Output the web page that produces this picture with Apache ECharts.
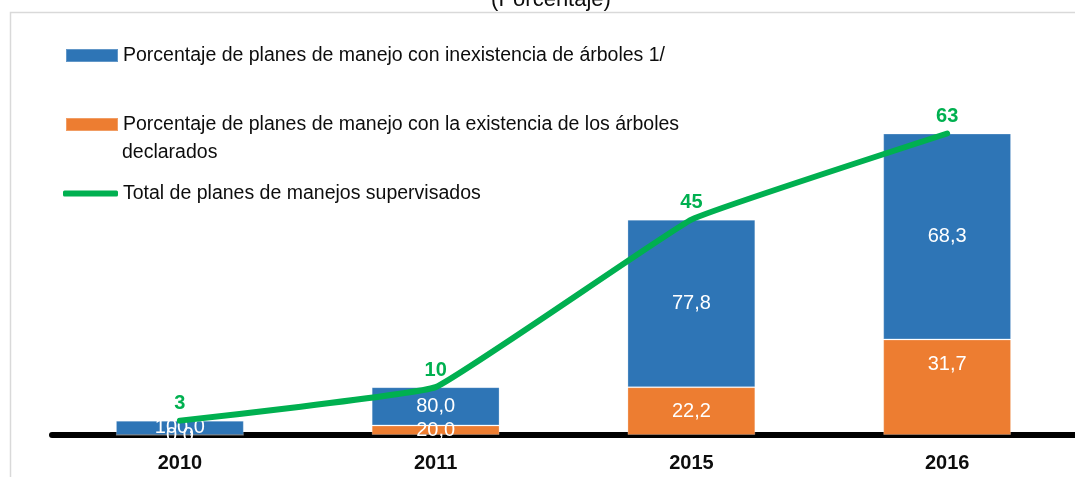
<!DOCTYPE html>
<html>
<head>
<meta charset="utf-8">
<script src="https://cdn.jsdelivr.net/npm/echarts@6/dist/echarts.min.js"></script>
<style>
  html, body { margin: 0; padding: 0; background: #fff; }
  #chart { width: 1075px; height: 477px; }
</style>
</head>
<body>
<div id="chart"></div>
<script>
  // años y valores
  var years = ['2010', '2011', '2015', '2016'];
  var totalPlanes = [3, 10, 45, 63];
  var pctInexistencia = [100.0, 80.0, 77.8, 68.3];
  var pctExistencia = [0.0, 20.0, 22.2, 31.7];

  var nameInex = 'Porcentaje de planes de manejo con inexistencia de árboles 1/';
  var nameExis = 'Porcentaje de planes de manejo con la existencia de los árboles';
  var nameTotal = 'Total de planes de manejos supervisados';

  var font = 'Liberation Sans, Arial, sans-serif';

  function fmt(v) {
    return v.toFixed(1).replace('.', ',');
  }

  // el alto de cada tramo es la parte del total que le toca
  var barInex = years.map(function (y, i) {
    return { value: totalPlanes[i] * pctInexistencia[i] / 100, pct: pctInexistencia[i] };
  });
  var barExis = years.map(function (y, i) {
    var item = { value: totalPlanes[i] * pctExistencia[i] / 100, pct: pctExistencia[i] };
    if (i === 3) {
      item.label = { position: 'insideTop', distance: 15 };
    }
    return item;
  });

  var legendText = { fontSize: 19.5, color: '#0d0d0d', lineHeight: 24, fontFamily: font };

  var chart = echarts.init(document.getElementById('chart'));
  var option = {
    animation: false,
    textStyle: { fontFamily: font },
    graphic: [
      {
        type: 'rect',
        shape: { x: 10.5, y: 12.5, width: 1200, height: 600 },
        style: { fill: 'none', stroke: '#d9d9d9', lineWidth: 1.5 },
        silent: true, z: -10
      },
      {
        type: 'text',
        x: 551, y: 0,
        style: {
          text: '(Porcentaje)', fill: '#0d0d0d', font: '22px ' + font,
          textAlign: 'center', textVerticalAlign: 'middle'
        }
      },
      {
        type: 'text',
        x: 122, y: 153,
        style: {
          text: 'declarados', fill: '#0d0d0d', font: '19.5px ' + font,
          textAlign: 'left', textVerticalAlign: 'middle'
        }
      }
    ],
    legend: [
      {
        data: [nameInex], left: 65, top: 43.5, padding: 0,
        itemWidth: 52, itemHeight: 13, icon: 'rect',
        textStyle: legendText
      },
      {
        data: [nameExis], left: 65, top: 112.5, padding: 0,
        itemWidth: 52, itemHeight: 13, icon: 'rect',
        textStyle: legendText
      },
      {
        data: [nameTotal], left: 63, top: 181.5, padding: 0,
        itemWidth: 55, itemHeight: 6, icon: 'roundRect',
        textStyle: legendText
      }
    ],
    grid: { left: 52, right: 0, top: 100, bottom: 42 },
    xAxis: {
      type: 'category',
      data: years,
      axisLine: { lineStyle: { color: '#000', width: 6 } },
      axisTick: { show: false },
      axisLabel: { fontSize: 20, fontWeight: 'bold', color: '#0d0d0d', margin: 18 }
    },
    yAxis: {
      type: 'value', min: 0, max: 70, show: false,
      splitLine: { show: false }
    },
    series: [
      {
        name: nameExis,
        type: 'bar',
        stack: 'planes',
        barWidth: '50%',
        data: barExis,
        itemStyle: { color: '#ed7d31', borderColor: 'rgba(255,255,255,0.25)', borderWidth: 1 },
        label: {
          show: true, position: 'inside', color: '#fff', fontSize: 20,
          formatter: function (p) { return fmt(p.data.pct); }
        },
        z: 2
      },
      {
        name: nameInex,
        type: 'bar',
        stack: 'planes',
        barWidth: '50%',
        data: barInex,
        itemStyle: { color: '#2e75b6', borderColor: 'rgba(255,255,255,0.25)', borderWidth: 1 },
        label: {
          show: true, position: 'inside', color: '#fff', fontSize: 20,
          formatter: function (p) { return fmt(p.data.pct); }
        },
        z: 2
      },
      {
        name: nameTotal,
        type: 'line',
        data: totalPlanes,
        smooth: 0.08,
        symbol: 'circle',
        symbolSize: 0.1,
        lineStyle: { color: '#00b050', width: 6, cap: 'round', join: 'round' },
        itemStyle: { color: '#00b050' },
        label: {
          show: true, position: 'top', distance: 7, color: '#00b050',
          fontSize: 20, fontWeight: 'bold'
        },
        z: 3
      }
    ]
  };
  chart.setOption(option);
</script>
</body>
</html>
